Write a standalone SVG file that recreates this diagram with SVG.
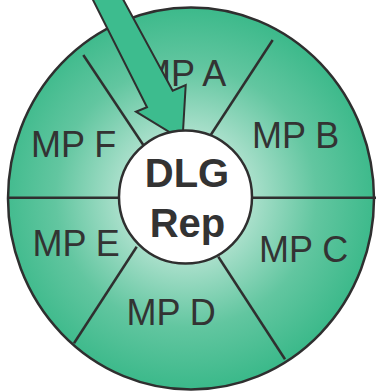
<svg xmlns="http://www.w3.org/2000/svg" width="376" height="392" viewBox="0 0 376 392">
  <style>
    .div { stroke: #2f2f2f; stroke-width: 2.5; fill: none; }
    .lbl { font-family: "Liberation Sans", Arial, sans-serif; font-size: 36px; fill: #333333; }
    .ctr { font-family: "Liberation Sans", Arial, sans-serif; font-size: 40px; font-weight: bold; fill: #333333; text-anchor: middle; }
  </style>
  <defs>
    <radialGradient id="ringGrad" gradientUnits="userSpaceOnUse" cx="186" cy="197" r="192">
      <stop offset="0" stop-color="#eaf7f2"/>
      <stop offset="0.35" stop-color="#a8dfca"/>
      <stop offset="0.68" stop-color="#62c6a0"/>
      <stop offset="1" stop-color="#3bb98a"/>
    </radialGradient>
  </defs>
  <g id="ring">
    <ellipse cx="191" cy="198.5" rx="183" ry="191" fill="url(#ringGrad)" stroke="#2f2f2f" stroke-width="2.5"/>
  </g>
  <g id="dividers">
    <line class="div" x1="272.7" y1="40" x2="210.7" y2="135"/>
    <line class="div" x1="83.3" y1="55" x2="143.3" y2="145"/>
    <line class="div" x1="9" y1="197.7" x2="119" y2="197.7"/>
    <line class="div" x1="252" y1="197.7" x2="376" y2="197.7"/>
    <line class="div" x1="136.7" y1="246.7" x2="74" y2="343.3"/>
    <line class="div" x1="218.3" y1="256.7" x2="285" y2="359.3"/>
  </g>
  <g id="mp-a"><text class="lbl" x="141" y="86">MP A</text></g>
  <g id="mp-b"><text class="lbl" x="252" y="148">MP B</text></g>
  <g id="mp-c"><text class="lbl" x="259" y="261.5">MP C</text></g>
  <g id="mp-d"><text class="lbl" x="126.5" y="325">MP D</text></g>
  <g id="mp-e"><text class="lbl" x="32.5" y="256">MP E</text></g>
  <g id="mp-f"><text class="lbl" x="31" y="156.5">MP F</text></g>
  <g id="connectors">
    <polygon points="88,-10 147,107.3 136,111.7 182.5,140 185.7,85 172.7,90.7 118,-10" fill="#3dbc8e" stroke="#2f2f2f" stroke-width="2" stroke-linejoin="miter"/>
  </g>
  <g id="dlg-rep">
    <circle cx="185.5" cy="197" r="66.5" fill="#ffffff" stroke="#2f2f2f" stroke-width="2.5"/>
    <text class="ctr" x="187" y="186.5">DLG</text>
    <text class="ctr" x="187.5" y="237">Rep</text>
  </g>
</svg>
